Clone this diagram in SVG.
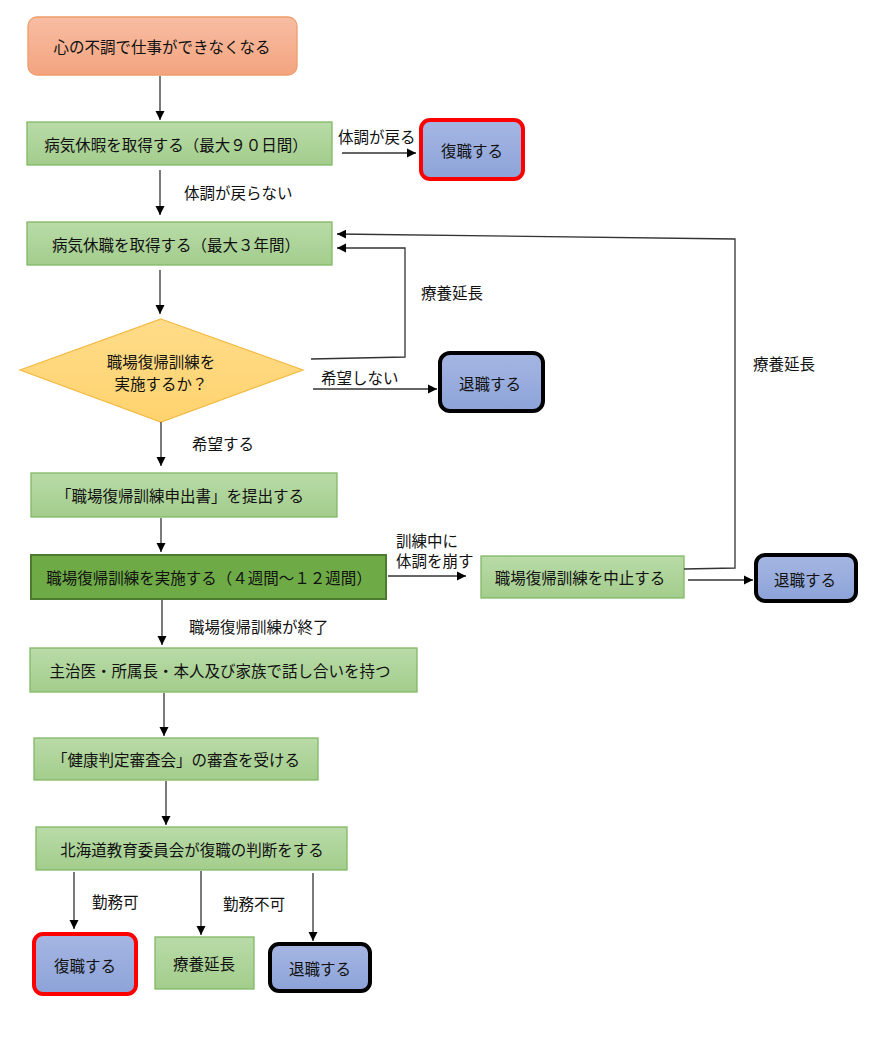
<svg xmlns="http://www.w3.org/2000/svg" width="882" height="1041" viewBox="0 0 882 1041">
<defs>
<linearGradient id="gGreen" x1="0" y1="0" x2="0" y2="1"><stop offset="0" stop-color="#b9dba8"/><stop offset="1" stop-color="#a3cd8c"/></linearGradient>
<linearGradient id="gBlue" x1="0" y1="0" x2="0" y2="1"><stop offset="0" stop-color="#a6b6e3"/><stop offset="1" stop-color="#8ca3d8"/></linearGradient>
<linearGradient id="gSalmon" x1="0" y1="0" x2="0" y2="1"><stop offset="0" stop-color="#f8bda3"/><stop offset="1" stop-color="#f4a47f"/></linearGradient>
<linearGradient id="gYellow" x1="0" y1="0" x2="0" y2="1"><stop offset="0" stop-color="#ffdc8a"/><stop offset="1" stop-color="#ffd36e"/></linearGradient>
<marker id="arr" markerWidth="10" markerHeight="10" refX="9" refY="5" orient="auto" markerUnits="userSpaceOnUse">
<path d="M0,0.5 L9,5 L0,9.5 Z" fill="#000"/>
</marker>
<style>
text{font-family:"Noto Sans CJK JP","Noto Sans",sans-serif;font-size:15.5px;fill:#111;}
.c{text-anchor:middle;dominant-baseline:central;}
.lbl{dominant-baseline:central;}
.green{fill:url(#gGreen);stroke:#82b866;stroke-width:1.3;}
.dark{fill:#6eab47;stroke:#4c7a2e;stroke-width:2;}
.red{fill:url(#gBlue);stroke:#ff0000;stroke-width:4;}
.blk{fill:url(#gBlue);stroke:#000;stroke-width:4;}
.conn path,.conn line,.conn polyline{fill:none;stroke:#333;stroke-width:1.3;marker-end:url(#arr);}
</style>
</defs>
<rect width="882" height="1041" fill="#fff"/>

<g id="n_start"><rect x="28" y="17" width="269" height="58" rx="9" fill="url(#gSalmon)" stroke="#ef9c6c" stroke-width="1.3"/><text class="c" x="162" y="46">心の不調で仕事ができなくなる</text></g>
<g id="n_kyuka"><rect class="green" x="27" y="122" width="305" height="43"/><text class="c" x="176" y="143.5">病気休暇を取得する（最大９０日間）</text></g>
<g id="n_fukushoku1"><rect class="red" x="421" y="120" width="102" height="59" rx="9"/><text class="c" x="472" y="150">復職する</text></g>
<g id="n_kyushoku"><rect class="green" x="27" y="222" width="305" height="43"/><text class="c" x="176" y="243.5">病気休職を取得する（最大３年間）</text></g>
<g id="n_decision"><polygon points="161,319 303,370 161,422 20,370" fill="url(#gYellow)" stroke="#f5b942" stroke-width="1.2"/><text class="c" x="161" y="361">職場復帰訓練を</text><text class="c" x="161" y="383">実施するか？</text></g>
<g id="n_taishoku1"><rect class="blk" x="440" y="353" width="103" height="58" rx="10"/><text class="c" x="490" y="383">退職する</text></g>
<g id="n_moushide"><rect class="green" x="31" y="473" width="306" height="44"/><text class="c" x="180" y="495">「職場復帰訓練申出書」を提出する</text></g>
<g id="n_jisshi"><rect class="dark" x="31" y="555" width="355" height="44"/><text class="c" x="209" y="577">職場復帰訓練を実施する（４週間〜１２週間）</text></g>
<g id="n_chushi"><rect class="green" x="481" y="556" width="203" height="42"/><text class="c" x="580" y="577">職場復帰訓練を中止する</text></g>
<g id="n_taishoku2"><rect class="blk" x="756" y="555" width="100" height="46" rx="9"/><text class="c" x="805" y="579">退職する</text></g>
<g id="n_hanashiai"><rect class="green" x="30" y="648" width="387" height="44"/><text class="c" x="220" y="670">主治医・所属長・本人及び家族で話し合いを持つ</text></g>
<g id="n_shinsa"><rect class="green" x="34" y="738" width="284" height="42"/><text class="c" x="176" y="759">「健康判定審査会」の審査を受ける</text></g>
<g id="n_handan"><rect class="green" x="36" y="827" width="311" height="43"/><text class="c" x="192" y="849">北海道教育委員会が復職の判断をする</text></g>
<g id="n_fukushoku2"><rect class="red" x="34" y="934" width="102" height="60" rx="9"/><text class="c" x="85" y="965">復職する</text></g>
<g id="n_ryoyo"><rect class="green" x="155" y="937" width="99" height="52"/><text class="c" x="204" y="963">療養延長</text></g>
<g id="n_taishoku3"><rect class="blk" x="270" y="944" width="100" height="47" rx="9"/><text class="c" x="320" y="968">退職する</text></g>

<g id="connectors" class="conn">
<line x1="160" y1="76" x2="160" y2="120"/>
<line x1="342" y1="153" x2="416" y2="153"/>
<line x1="160" y1="170" x2="160" y2="215"/>
<line x1="160" y1="270" x2="160" y2="314"/>
<polyline points="311,359 405,357 405,248 337,248"/>
<polyline points="684,569 735,568 735,239 337,234"/>
<line x1="313" y1="389" x2="437" y2="389"/>
<line x1="161" y1="422" x2="161" y2="466"/>
<line x1="161" y1="518" x2="161" y2="552"/>
<line x1="388" y1="576" x2="466" y2="576"/>
<line x1="688" y1="580" x2="753" y2="580"/>
<line x1="162" y1="600" x2="162" y2="645"/>
<line x1="164" y1="693" x2="164" y2="736"/>
<line x1="166" y1="781" x2="166" y2="825"/>
<line x1="74" y1="872" x2="74" y2="929"/>
<line x1="201" y1="871" x2="201" y2="935"/>
<line x1="313" y1="873" x2="313" y2="941"/>
</g>

<g id="labels">
<text class="lbl" x="338" y="136">体調が戻る</text>
<text class="lbl" x="184" y="192">体調が戻らない</text>
<text class="lbl" x="421" y="292">療養延長</text>
<text class="lbl" x="321" y="377">希望しない</text>
<text class="lbl" x="753" y="363">療養延長</text>
<text class="lbl" x="192" y="443">希望する</text>
<text class="lbl" x="396" y="540">訓練中に</text>
<text class="lbl" x="396" y="560">体調を崩す</text>
<text class="lbl" x="189" y="626">職場復帰訓練が終了</text>
<text class="lbl" x="92" y="901">勤務可</text>
<text class="lbl" x="223" y="903">勤務不可</text>
</g>
</svg>
